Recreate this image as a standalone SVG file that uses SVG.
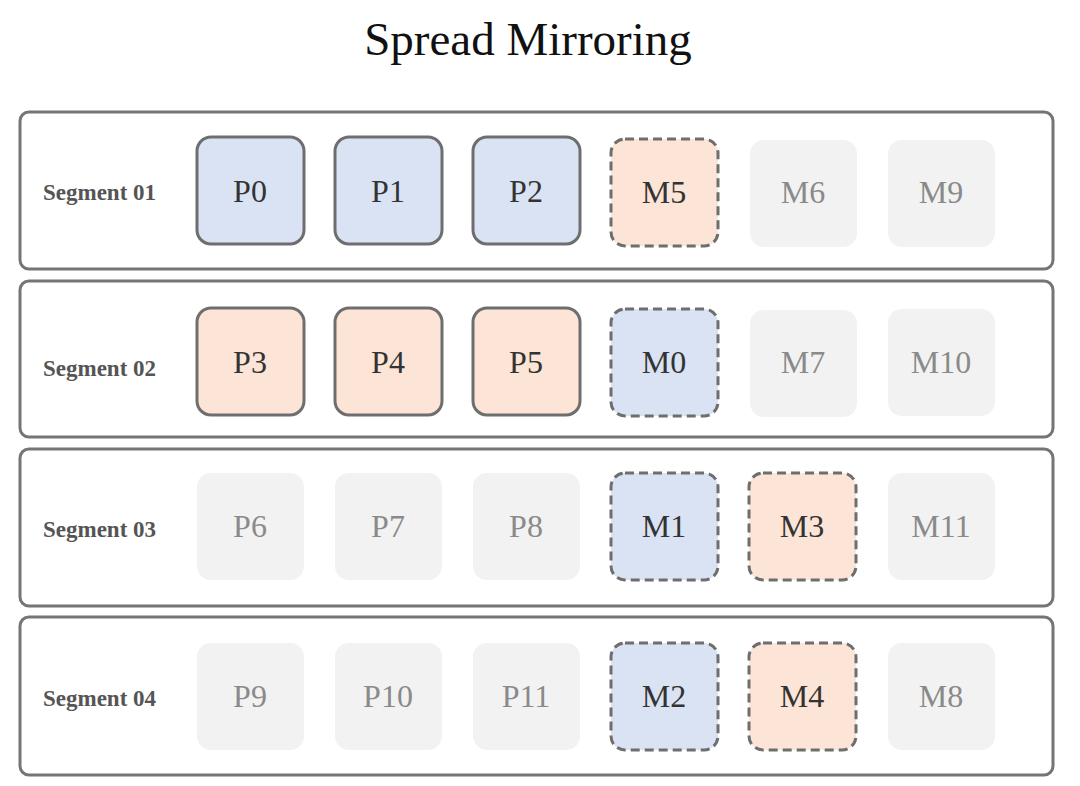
<svg xmlns="http://www.w3.org/2000/svg" width="1080" height="786" viewBox="0 0 1080 786">
<style>
.seg{fill:#fff;stroke:#757575;stroke-width:3}
.lbl{font-family:"Liberation Serif",serif;font-weight:bold;font-size:23px;fill:#555}
.t{font-family:"Liberation Serif",serif;font-size:32px;text-anchor:middle;dominant-baseline:central}
.p{stroke:#6e6e6e;stroke-width:3}
.m{stroke:#6e6e6e;stroke-width:3;stroke-dasharray:9 5}
.blue{fill:#dae3f3}
.or{fill:#fce4d6}
.fd{fill:#f2f2f2}
.dk{fill:#333}
.lt{fill:#8a8a8a}
</style>
<rect width="1080" height="786" fill="#fff"/>
<text x="528" y="55" font-family="Liberation Serif,serif" font-size="47" text-anchor="middle" fill="#111">Spread Mirroring</text>

<g id="seg1"><rect class="seg" x="20" y="112" width="1033" height="157" rx="9"/><text class="lbl" x="43" y="200">Segment 01</text></g>
<g id="seg2"><rect class="seg" x="20" y="281" width="1033" height="156" rx="9"/><text class="lbl" x="43" y="376">Segment 02</text></g>
<g id="seg3"><rect class="seg" x="20" y="449" width="1033" height="157" rx="9"/><text class="lbl" x="43" y="537">Segment 03</text></g>
<g id="seg4"><rect class="seg" x="20" y="617" width="1033" height="158" rx="9"/><text class="lbl" x="43" y="706">Segment 04</text></g>

<g id="P0"><rect class="p blue" x="197" y="137" width="107" height="107" rx="14"/><text class="t dk" x="250" y="191">P0</text></g>
<g id="P1"><rect class="p blue" x="335" y="137" width="107" height="107" rx="14"/><text class="t dk" x="388" y="191">P1</text></g>
<g id="P2"><rect class="p blue" x="473" y="137" width="107" height="107" rx="14"/><text class="t dk" x="526" y="191">P2</text></g>
<g id="M5"><rect class="m or" x="611" y="139" width="107" height="107" rx="14"/><text class="t dk" x="664" y="192">M5</text></g>
<g id="M6"><rect class="fd" x="750" y="140" width="107" height="107" rx="14"/><text class="t lt" x="803" y="192">M6</text></g>
<g id="M9"><rect class="fd" x="888" y="140" width="107" height="107" rx="14"/><text class="t lt" x="941" y="192">M9</text></g>

<g id="P3"><rect class="p or" x="197" y="308" width="107" height="107" rx="14"/><text class="t dk" x="250" y="362">P3</text></g>
<g id="P4"><rect class="p or" x="335" y="308" width="107" height="107" rx="14"/><text class="t dk" x="388" y="362">P4</text></g>
<g id="P5"><rect class="p or" x="473" y="308" width="107" height="107" rx="14"/><text class="t dk" x="526" y="362">P5</text></g>
<g id="M0"><rect class="m blue" x="611" y="309" width="107" height="107" rx="14"/><text class="t dk" x="664" y="362">M0</text></g>
<g id="M7"><rect class="fd" x="750" y="310" width="107" height="107" rx="14"/><text class="t lt" x="803" y="362">M7</text></g>
<g id="M10"><rect class="fd" x="888" y="309" width="107" height="107" rx="14"/><text class="t lt" x="941" y="362">M10</text></g>

<g id="P6"><rect class="fd" x="197" y="473" width="107" height="107" rx="14"/><text class="t lt" x="250" y="526">P6</text></g>
<g id="P7"><rect class="fd" x="335" y="473" width="107" height="107" rx="14"/><text class="t lt" x="388" y="526">P7</text></g>
<g id="P8"><rect class="fd" x="473" y="473" width="107" height="107" rx="14"/><text class="t lt" x="526" y="526">P8</text></g>
<g id="M1"><rect class="m blue" x="611" y="473" width="107" height="107" rx="14"/><text class="t dk" x="664" y="526">M1</text></g>
<g id="M3"><rect class="m or" x="749" y="473" width="107" height="107" rx="14"/><text class="t dk" x="802" y="526">M3</text></g>
<g id="M11"><rect class="fd" x="888" y="473" width="107" height="107" rx="14"/><text class="t lt" x="941" y="526">M11</text></g>

<g id="P9"><rect class="fd" x="197" y="643" width="107" height="107" rx="14"/><text class="t lt" x="250" y="696">P9</text></g>
<g id="P10"><rect class="fd" x="335" y="643" width="107" height="107" rx="14"/><text class="t lt" x="388" y="696">P10</text></g>
<g id="P11"><rect class="fd" x="473" y="643" width="107" height="107" rx="14"/><text class="t lt" x="526" y="696">P11</text></g>
<g id="M2"><rect class="m blue" x="611" y="643" width="107" height="107" rx="14"/><text class="t dk" x="664" y="696">M2</text></g>
<g id="M4"><rect class="m or" x="749" y="643" width="107" height="107" rx="14"/><text class="t dk" x="802" y="696">M4</text></g>
<g id="M8"><rect class="fd" x="888" y="643" width="107" height="107" rx="14"/><text class="t lt" x="941" y="696">M8</text></g>

<g id="connectors"/>
</svg>
